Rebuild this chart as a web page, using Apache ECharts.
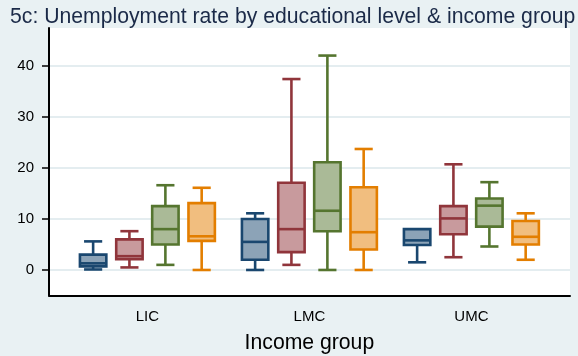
<!DOCTYPE html>
<html>
<head>
<meta charset="utf-8">
<script src="https://cdn.jsdelivr.net/npm/echarts@6/dist/echarts.min.js"></script>
<style>
  html, body { margin: 0; padding: 0; background: #e9f1f3; }
  #chart { width: 578px; height: 356px; }
</style>
</head>
<body>
<div id="chart"></div>
<script>
// Income groups on the category axis
const incomeGroups = ['LIC', 'LMC', 'UMC'];

// Five-number summaries [min, Q1, median, Q3, max] per income group, one array per education level
const lessThanBasic = [[0.1, 0.7, 1.3, 3.0, 5.6], [0.0, 2.0, 5.5, 10.0, 11.1], [1.5, 4.9, 5.8, 8.0, 8.0]];
const basic         = [[0.5, 2.1, 2.7, 6.0, 7.6], [1.0, 3.5, 8.0, 17.1, 37.4], [2.5, 7.0, 10.1, 12.5, 20.7]];
const intermediate  = [[1.0, 5.0, 8.0, 12.5, 16.6], [0.0, 7.6, 11.6, 21.1, 42.0], [4.6, 8.5, 12.6, 14.0, 17.2]];
const advanced      = [[0.0, 5.7, 6.6, 13.1, 16.1], [0.0, 4.0, 7.4, 16.2, 23.7], [2.0, 5.0, 6.5, 9.6, 11.1]];

// Value-axis tick labels
const yTicks = [0, 10, 20, 30, 40];

const levels = [
  { name: 'Less than basic', values: lessThanBasic, line: '#1a476f', fill: '#8ca3b7' },
  { name: 'Basic',           values: basic,         line: '#90353b', fill: '#c89a9d' },
  { name: 'Intermediate',    values: intermediate,  line: '#55752f', fill: '#aaba97' },
  { name: 'Advanced',        values: advanced,      line: '#e37e00', fill: '#f1be7f' }
];

// Position of each education level inside its income-group band (fraction of band width)
const OFFSETS = [-0.335, -0.111, 0.111, 0.335];
const BOX_FRAC = 0.163;
const CAP_FRAC = 0.112;
const LW = 2.6;

function renderBox(params, api) {
  const lvl = levels[params.seriesIndex];
  const cat = api.value(0);
  const band = api.size([1, 0])[0];
  const cx = api.coord([cat, 0])[0] + OFFSETS[params.seriesIndex] * band;
  const half = band * BOX_FRAC / 2;
  const capHalf = band * CAP_FRAC / 2;
  const y = (i) => api.coord([cat, api.value(i)])[1];
  const yMin = y(1), yQ1 = y(2), yMed = y(3), yQ3 = y(4), yMax = y(5);
  const line = (x1, y1, x2, y2) => ({
    type: 'line',
    shape: { x1, y1, x2, y2 },
    style: { stroke: lvl.line, lineWidth: LW }
  });
  const children = [];
  if (yMax < yQ3 - 0.5) {
    children.push(line(cx, yQ3, cx, yMax), line(cx - capHalf, yMax, cx + capHalf, yMax));
  }
  if (yMin > yQ1 + 0.5) {
    children.push(line(cx, yQ1, cx, yMin));
  }
  children.push(line(cx - capHalf, yMin, cx + capHalf, yMin));
  children.push({
    type: 'rect',
    shape: { x: cx - half, y: yQ3, width: 2 * half, height: yQ1 - yQ3 },
    style: { fill: lvl.fill, stroke: lvl.line, lineWidth: LW }
  });
  children.push(line(cx - half, yMed, cx + half, yMed));
  return { type: 'group', children };
}

const Y_MIN = -5, Y_MAX = 47.4;
const FONT = '"Liberation Sans", Arial, sans-serif';

const chart = echarts.init(document.getElementById('chart'), null, { renderer: 'canvas' });

chart.setOption({
  backgroundColor: '#e9f1f3',
  animation: false,
  textStyle: { fontFamily: FONT },
  title: {
    text: '5c: Unemployment rate by educational level & income group',
    left: 5,
    top: 2,
    textStyle: { fontSize: 21.2, fontWeight: 'normal', color: '#1b2a48', fontFamily: FONT }
  },
  grid: [
    // plot region with frame axes and gridlines
    { left: 49, right: 8, top: 28, bottom: 60.5, show: true, backgroundColor: '#ffffff', borderWidth: 0,
      outerBoundsMode: 'none', containLabel: false },
    // region holding the income-group bands
    { left: 66.4, right: 25.6, top: 28, bottom: 60.5, outerBoundsMode: 'none', containLabel: false }
  ],
  xAxis: [
    {
      type: 'value', gridIndex: 0, min: 0, max: 1,
      axisLine: { show: true, onZero: false, lineStyle: { color: '#000', width: 2 } },
      axisTick: { show: false }, axisLabel: { show: false }, splitLine: { show: false }
    },
    {
      type: 'category', gridIndex: 1, data: incomeGroups,
      axisLine: { show: false }, axisTick: { show: false },
      axisLabel: { fontSize: 15, color: '#000', margin: 14, fontFamily: FONT },
      name: 'Income group', nameLocation: 'middle', nameGap: 37,
      nameTextStyle: { fontSize: 21.2, color: '#000', fontFamily: FONT }
    }
  ],
  yAxis: [
    {
      type: 'value', gridIndex: 0, min: Y_MIN, max: Y_MAX,
      axisLine: { show: true, onZero: false, lineStyle: { color: '#000', width: 2 } },
      axisTick: { show: true, length: 7, customValues: yTicks, lineStyle: { color: '#000', width: 1.5 } },
      axisLabel: { customValues: yTicks, fontSize: 15, color: '#000', margin: 15, fontFamily: FONT },
      splitLine: { show: true, lineStyle: { color: '#e4edf0', width: 2 } }
    },
    {
      type: 'value', gridIndex: 1, min: Y_MIN, max: Y_MAX, show: false
    }
  ],
  series: levels.map((lvl) => ({
    type: 'custom',
    name: lvl.name,
    xAxisIndex: 1,
    yAxisIndex: 1,
    renderItem: renderBox,
    encode: { x: 0, y: [1, 2, 3, 4, 5] },
    data: lvl.values.map((v, i) => [i].concat(v))
  }))
});
</script>
</body>
</html>
